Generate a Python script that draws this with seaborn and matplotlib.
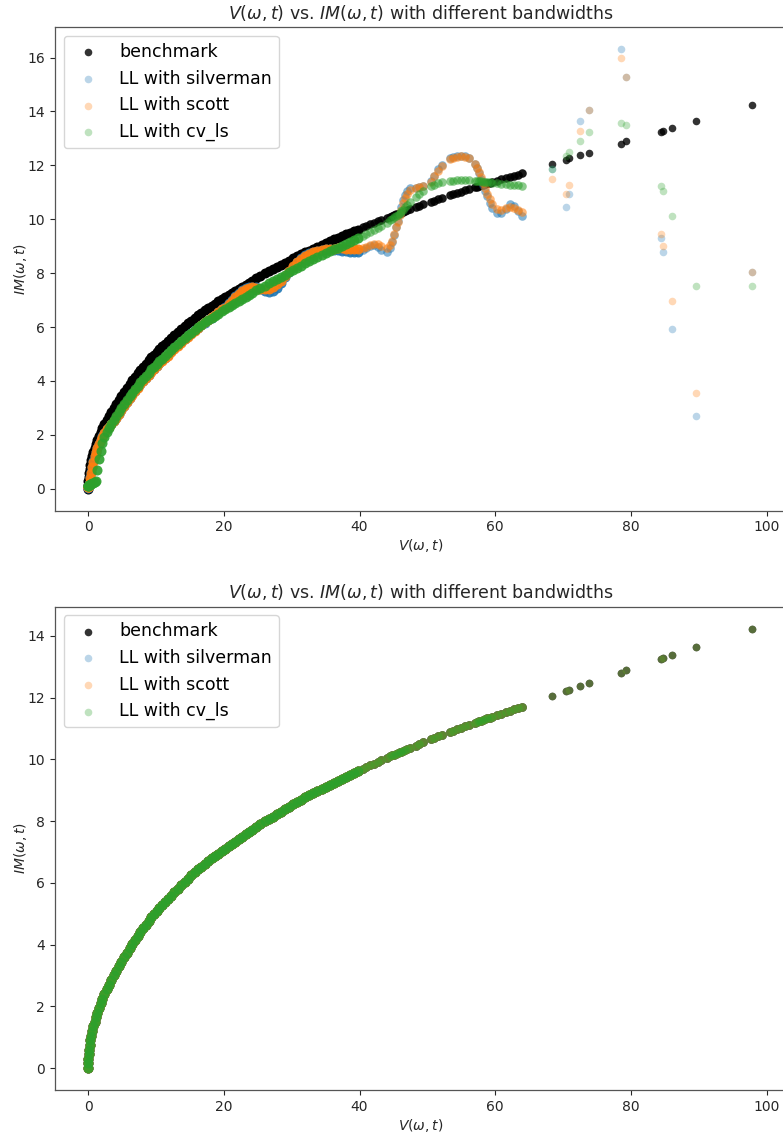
import matplotlib
matplotlib.use("Agg")
import matplotlib.pyplot as plt
import seaborn as sns

# ---------------- data ----------------
# dense part of V(w,t) shared by all series
v_dense = [0.0, 0.009, 0.037, 0.084, 0.150, 0.234, 0.337, 0.459, 0.599, 0.759, 0.937, 1.133,
           1.349, 1.583, 1.836, 2.107, 2.398, 2.707, 3.034, 3.381, 3.746, 4.130, 4.533,
           4.9, 5.3, 5.7, 6.1, 6.5, 6.9, 7.3, 7.7, 8.1, 8.5, 8.9, 9.3, 9.7, 10.1, 10.5, 10.9, 11.3, 11.7,
           12.2, 12.7, 13.2, 13.7, 14.2, 14.7, 15.2, 15.7, 16.2, 16.7, 17.2, 17.7, 18.2, 18.7, 19.2,
           19.7, 20.2, 20.7, 21.2, 21.7, 22.2, 22.7, 23.2, 23.7, 24.2,
           24.8, 25.4, 26.0, 26.6, 27.2, 27.8, 28.4, 29.0, 29.6, 30.2, 30.8, 31.4, 32.0, 32.6, 33.2,
           33.8, 34.4, 35.0, 35.6, 36.2, 36.8, 37.4, 38.0, 38.6, 39.2, 39.8,
           40.5, 41.0, 41.6, 42.1, 42.7, 43.2, 44.0, 44.5, 44.8, 45.1, 45.4, 45.6, 45.9, 46.1, 46.4,
           46.7, 47.0, 47.5, 48.3, 48.8, 49.4, 50.5, 51.0, 51.6, 52.1, 53.3, 53.8, 54.4, 55.0, 55.6,
           56.1, 57.0, 57.3, 57.6, 57.9, 58.2, 58.5, 58.8, 59.2, 59.6, 60.3, 60.9, 61.6, 62.2, 62.8,
           63.4, 63.9]

im_bench_dense = [0.0, 0.15, 0.30, 0.45, 0.60, 0.75, 0.90, 1.05, 1.20, 1.35, 1.50, 1.65, 1.80, 1.95,
                  2.10, 2.25, 2.40, 2.55, 2.70, 2.85, 3.00, 3.15, 3.30,
                  3.45, 3.60, 3.74, 3.88, 4.02, 4.15, 4.28, 4.40, 4.53, 4.64, 4.76, 4.88, 4.98, 5.09,
                  5.19, 5.28, 5.38, 5.47,
                  5.59, 5.70, 5.81, 5.92, 6.03, 6.14, 6.24, 6.34, 6.44, 6.53, 6.62, 6.71, 6.79, 6.87,
                  6.95, 7.03, 7.11, 7.19, 7.27, 7.34, 7.42, 7.50, 7.57, 7.65, 7.72,
                  7.81, 7.90, 7.99, 8.07, 8.15, 8.23, 8.31, 8.39, 8.47, 8.55, 8.62, 8.70, 8.77, 8.84,
                  8.91, 8.98, 9.05, 9.12, 9.18, 9.25, 9.31, 9.38, 9.44, 9.50, 9.56, 9.62,
                  9.70, 9.75, 9.81, 9.86, 9.92, 9.97, 10.05, 10.10, 10.13, 10.15, 10.18, 10.20, 10.23,
                  10.25, 10.28, 10.31, 10.34, 10.38, 10.45, 10.50, 10.55, 10.65, 10.69, 10.75, 10.79,
                  10.89, 10.93, 10.98, 11.03, 11.08, 11.12, 11.19, 11.21, 11.23, 11.26, 11.28, 11.30,
                  11.33, 11.35, 11.38, 11.43, 11.48, 11.53, 11.57, 11.62, 11.66, 11.70]

im_silverman_dense = [0.04, 0.05, 0.07, 0.10, 0.16, 0.26, 0.42, 0.62, 0.82, 1.02, 1.21, 1.37, 1.53,
                      1.67, 1.81, 1.94, 2.07, 2.21, 2.31, 2.41, 2.51, 2.64, 2.78,
                      2.93, 3.08, 3.22, 3.36, 3.50, 3.63, 3.76, 3.88, 4.01, 4.12, 4.24, 4.36, 4.46,
                      4.57, 4.67, 4.76, 4.86, 4.95,
                      5.10, 5.21, 5.32, 5.43, 5.55, 5.66, 5.77, 5.88, 5.98, 6.07, 6.16, 6.25, 6.34,
                      6.44, 6.55, 6.67, 6.74, 6.88, 7.02, 7.15, 7.27, 7.37, 7.44, 7.48, 7.49,
                      7.48, 7.40, 7.33, 7.31, 7.35, 7.45, 7.62, 7.84, 8.05, 8.24, 8.41, 8.55, 8.66,
                      8.74, 8.80, 8.84, 8.87, 8.88, 8.88, 8.87, 8.86, 8.84, 8.82, 8.80, 8.79, 8.80,
                      8.86, 8.93, 9.02, 9.05, 8.98, 8.86, 8.80, 8.95, 9.15, 9.40, 9.70, 9.92, 10.20,
                      10.45, 10.70, 10.90, 11.05, 11.15, 11.17, 11.18, 11.22, 11.42, 11.62, 11.85,
                      12.02, 12.27, 12.32, 12.35, 12.36, 12.33, 12.27, 12.05, 11.90, 11.72, 11.50,
                      11.28, 11.06, 10.85, 10.62, 10.40, 10.22, 10.25, 10.38, 10.55, 10.48, 10.30,
                      10.12]

im_scott_dense = [0.05, 0.06, 0.08, 0.10, 0.15, 0.25, 0.40, 0.60, 0.80, 1.00, 1.20, 1.36, 1.52,
                  1.66, 1.80, 1.93, 2.06, 2.20, 2.30, 2.40, 2.50, 2.63, 2.77,
                  2.92, 3.07, 3.21, 3.35, 3.49, 3.62, 3.75, 3.87, 4.00, 4.11, 4.23, 4.35, 4.45,
                  4.56, 4.66, 4.75, 4.85, 4.94,
                  5.09, 5.20, 5.31, 5.42, 5.54, 5.65, 5.76, 5.87, 5.98, 6.08, 6.17, 6.27, 6.36,
                  6.46, 6.56, 6.67, 6.72, 6.85, 6.98, 7.10, 7.22, 7.32, 7.40, 7.45, 7.47,
                  7.46, 7.42, 7.40, 7.42, 7.48, 7.58, 7.72, 7.90, 8.08, 8.25, 8.40, 8.53, 8.63,
                  8.71, 8.77, 8.82, 8.86, 8.88, 8.90, 8.91, 8.92, 8.92, 8.91, 8.90, 8.89, 8.89,
                  8.92, 8.97, 9.05, 9.10, 9.08, 9.00, 8.93, 9.05, 9.20, 9.45, 9.72, 9.90, 10.15,
                  10.35, 10.60, 10.80, 10.95, 11.08, 11.15, 11.18, 11.22, 11.40, 11.60, 11.80,
                  11.98, 12.22, 12.28, 12.32, 12.34, 12.32, 12.26, 12.05, 11.92, 11.75, 11.56,
                  11.35, 11.15, 10.95, 10.74, 10.55, 10.38, 10.34, 10.40, 10.46, 10.42, 10.34,
                  10.28]

im_cvls_dense = [0.10, 0.11, 0.12, 0.13, 0.14, 0.15, 0.17, 0.19, 0.21, 0.23, 0.25, 0.27, 0.70,
                 1.10, 1.40, 1.70, 1.93, 2.10, 2.25, 2.40, 2.55, 2.70, 2.85,
                 3.00, 3.15, 3.29, 3.43, 3.57, 3.70, 3.83, 3.95, 4.08, 4.19, 4.31, 4.43, 4.53,
                 4.64, 4.74, 4.83, 4.93, 5.02,
                 5.14, 5.25, 5.36, 5.47, 5.58, 5.69, 5.79, 5.89, 5.99, 6.08, 6.17, 6.26, 6.34,
                 6.42, 6.50, 6.58, 6.66, 6.74, 6.82, 6.89, 6.97, 7.05, 7.12, 7.20, 7.27,
                 7.36, 7.45, 7.54, 7.62, 7.70, 7.79, 7.87, 7.95, 8.04, 8.12, 8.20, 8.28, 8.36,
                 8.44, 8.52, 8.59, 8.67, 8.74, 8.81, 8.88, 8.95, 9.02, 9.09, 9.16, 9.23, 9.30,
                 9.39, 9.45, 9.52, 9.59, 9.67, 9.75, 9.88, 9.97, 10.02, 10.07, 10.13, 10.17, 10.24,
                 10.29, 10.36, 10.44, 10.52, 10.65, 10.84, 10.95, 11.06, 11.22, 11.28, 11.33,
                 11.37, 11.42, 11.43, 11.44, 11.45, 11.45, 11.45, 11.43, 11.43, 11.42, 11.41,
                 11.40, 11.39, 11.38, 11.37, 11.36, 11.34, 11.32, 11.30, 11.28, 11.27, 11.26,
                 11.25]

# sparse tail of V(w,t)
v_tail = [68.3, 70.4, 70.9, 72.5, 73.85, 78.6, 79.3, 84.4, 84.8, 86.0, 89.6, 97.9]
im_bench_tail = [12.05, 12.21, 12.26, 12.37, 12.46, 12.80, 12.89, 13.25, 13.27, 13.37, 13.63, 14.24]
im_silverman_tail = [11.86, 10.44, 10.93, 13.65, 14.06, 16.31, 15.29, 9.30, 8.77, 5.94, 2.71, 8.06]
im_scott_tail = [11.50, 10.95, 11.28, 13.28, 14.06, 16.00, 15.29, 9.46, 8.99, 6.96, 3.56, 8.06]
im_cvls_tail = [11.86, 12.36, 12.50, 12.92, 13.24, 13.59, 13.51, 11.23, 11.05, 10.13, 7.54, 7.54]

labels = ["benchmark", "LL with silverman", "LL with scott", "LL with cv_ls"]
colors = ["black", "#1f77b4", "#ff7f0e", "#2ca02c"]

v_all = v_dense + v_tail
top_series = [im_bench_dense + im_bench_tail,
              im_silverman_dense + im_silverman_tail,
              im_scott_dense + im_scott_tail,
              im_cvls_dense + im_cvls_tail]
# second panel: all fits coincide with the benchmark
bottom_series = [im_bench_dense + im_bench_tail] * 4

title = r"$V(\omega,t)$ vs. $IM(\omega,t)$ with different bandwidths"

# The original has many overlapping points where V is small, which saturates
# the translucent markers; emulate that point density with opacity by V range.
# (lower V bound, upper V bound, alpha benchmark, alpha LL, marker size)
density_bands = [(-1, 40, 1.0, 0.9, 52),
                 (40, 65, 0.9, 0.55, 38),
                 (65, 200, 0.8, 0.3, 30)]

# ---------------- figure ----------------
fig = plt.figure(figsize=(7.83, 11.35), dpi=100)
ax1 = fig.add_axes([0.0702, 0.550, 0.9330, 0.426])
ax2 = fig.add_axes([0.0702, 0.0396, 0.9330, 0.426])

text_color = "#262626"
for ax, series in ((ax1, top_series), (ax2, bottom_series)):
    for i, (lab, ys, c) in enumerate(zip(labels, series, colors)):
        for lo, hi, a_b, a_ll, size in density_bands:
            xs = [v for v in v_all if lo <= v < hi]
            yy = [y for v, y in zip(v_all, ys) if lo <= v < hi]
            a = a_b if i == 0 else a_ll
            sns.scatterplot(x=xs, y=yy, ax=ax, color=c, alpha=a, s=size,
                            linewidth=0, label=lab if lo >= 65 else None)
    ax.set_title(title, fontsize=12.5, color=text_color)
    ax.set_xlabel(r"$V(\omega,t)$", fontsize=10, color=text_color, labelpad=2)
    ax.set_ylabel(r"$IM(\omega,t)$", fontsize=10, color=text_color, labelpad=-1)
    ax.set_xticks([0, 20, 40, 60, 80, 100])
    ax.tick_params(labelsize=10, colors=text_color)
    for sp in ax.spines.values():
        sp.set_color("#555555")
        sp.set_linewidth(0.9)
    ax.legend(loc="upper left", fontsize=12.5, frameon=True)

ax1.set_yticks([0, 2, 4, 6, 8, 10, 12, 14, 16])
ax2.set_yticks([0, 2, 4, 6, 8, 10, 12, 14])

fig.savefig("out.png", dpi=100)
